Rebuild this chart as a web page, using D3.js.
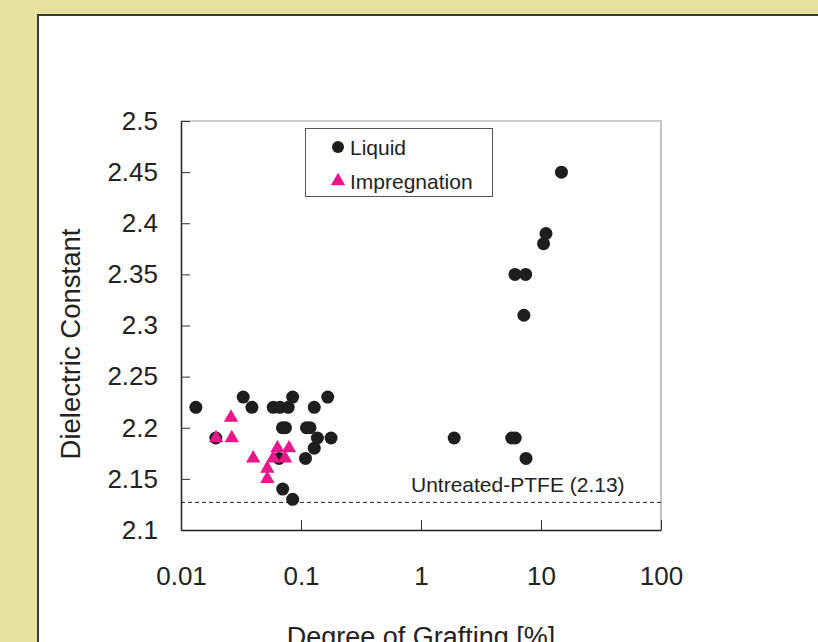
<!DOCTYPE html>
<html>
<head>
<meta charset="utf-8">
<script src="https://cdn.jsdelivr.net/npm/d3@7"></script>
<style>
  html, body { margin: 0; padding: 0; background: #e7e29f; overflow: hidden; }
  svg { display: block; }
  text { font-family: "Liberation Sans", Arial, sans-serif; fill: #222; }
</style>
</head>
<body>
<svg id="chart" width="818" height="642"></svg>
<script>
// ---- data ----
const liquidX = [0.0133, 0.033, 0.039, 0.0195, 0.0587, 0.0668, 0.0782, 0.0852, 0.129, 0.167,
                 0.070, 0.0743, 0.111, 0.119, 0.137, 0.178, 0.129, 0.109, 0.0656, 0.0704, 0.0852,
                 14.8, 11.0, 10.5, 6.07, 7.45, 7.2, 1.89, 5.7, 6.1, 7.5];
const liquidY = [2.22, 2.23, 2.22, 2.19, 2.22, 2.22, 2.22, 2.23, 2.22, 2.23,
                 2.20, 2.20, 2.20, 2.20, 2.19, 2.19, 2.18, 2.17, 2.17, 2.14, 2.13,
                 2.45, 2.39, 2.38, 2.35, 2.35, 2.31, 2.19, 2.19, 2.19, 2.17];
const impX = [0.0261, 0.0196, 0.0265, 0.040, 0.0524, 0.0524, 0.0587, 0.0637, 0.0737, 0.0794];
const impY = [2.21, 2.19, 2.19, 2.17, 2.16, 2.15, 2.17, 2.18, 2.17, 2.18];
const xTicks = [0.01, 0.1, 1, 10, 100];
const xTickLabels = ["0.01", "0.1", "1", "10", "100"];
const yTicks = [2.1, 2.15, 2.2, 2.25, 2.3, 2.35, 2.4, 2.45, 2.5];
const yTickLabels = ["2.1", "2.15", "2.2", "2.25", "2.3", "2.35", "2.4", "2.45", "2.5"];
const baseline = 2.127;
const baselineLabel = "Untreated-PTFE (2.13)";
const seriesNames = ["Liquid", "Impregnation"];
const xTitle = "Degree of Grafting [%]";
const yTitle = "Dielectric Constant";

// ---- layout ----
const svg = d3.select("#chart");
const L = 181, R = 661, T = 121, B = 530;
const black = "#1e1e1e", magenta = "#e8178a";

// panel
svg.append("rect").attr("x", 38).attr("y", 15).attr("width", 830).attr("height", 700)
  .attr("fill", "#fff").attr("stroke", "#3a3a3a").attr("stroke-width", 2);

const x = d3.scaleLog().domain([0.01, 100]).range([L, R]);
const y = d3.scaleLinear().domain([2.1, 2.5]).range([B, T]);

// top & right frame
svg.append("path").attr("d", `M${L},${T}H${R}V${B}`).attr("fill", "none")
  .attr("stroke", "#9a9a9a").attr("stroke-width", 1.2);

// axes
const yAxis = d3.axisLeft(y).tickValues(yTicks)
  .tickFormat((d, i) => yTickLabels[i]).tickSize(-9).tickSizeOuter(0).tickPadding(23);
const gy = svg.append("g").attr("transform", `translate(${L},0)`).call(yAxis);
const xAxis = d3.axisBottom(x).tickValues(xTicks)
  .tickFormat((d, i) => xTickLabels[i]).tickSize(-10).tickSizeOuter(0).tickPadding(37);
const gx = svg.append("g").attr("transform", `translate(0,${B})`).call(xAxis);
[gx, gy].forEach(g => {
  g.select(".domain").attr("stroke", black).attr("stroke-width", 1.5);
  g.selectAll(".tick line").attr("stroke", "#333").attr("stroke-width", 1);
  g.selectAll(".tick text").attr("font-size", 26).attr("fill", "#222")
    .attr("font-family", "'Liberation Sans', Arial, sans-serif");
});

// baseline
svg.append("line").attr("x1", L).attr("x2", R).attr("y1", y(baseline)).attr("y2", y(baseline))
  .attr("stroke", "#222").attr("stroke-width", 1).attr("stroke-dasharray", "4,3");
svg.append("text").attr("x", 411).attr("y", y(baseline) - 10).attr("font-size", 21)
  .text(baselineLabel);

// points
const liquid = liquidX.map((v, i) => ({x: v, y: liquidY[i]}));
const imp = impX.map((v, i) => ({x: v, y: impY[i]}));
svg.append("g").selectAll("circle").data(liquid).join("circle")
  .attr("cx", d => x(d.x)).attr("cy", d => y(d.y)).attr("r", 6.5).attr("fill", black);
const tri = d3.symbol().type(d3.symbolTriangle).size(90);
svg.append("g").selectAll("path").data(imp).join("path")
  .attr("transform", d => `translate(${x(d.x)},${y(d.y)})`).attr("d", tri).attr("fill", magenta);

// legend
svg.append("rect").attr("x", 305.5).attr("y", 128.5).attr("width", 187).attr("height", 68)
  .attr("fill", "#fff").attr("stroke", "#555").attr("stroke-width", 1);
svg.append("circle").attr("cx", 338).attr("cy", 147).attr("r", 6).attr("fill", black);
svg.append("path").attr("transform", "translate(338,181)").attr("d", tri).attr("fill", magenta);
svg.append("text").attr("x", 350).attr("y", 155).attr("font-size", 21).text(seriesNames[0]);
svg.append("text").attr("x", 350).attr("y", 189).attr("font-size", 21).text(seriesNames[1]);

// titles
svg.append("text").attr("x", 421).attr("y", 646).attr("text-anchor", "middle")
  .attr("font-size", 27).text(xTitle);
svg.append("text").attr("transform", "translate(80,344) rotate(-90)").attr("text-anchor", "middle")
  .attr("font-size", 27.5).text(yTitle);
</script>
</body>
</html>
